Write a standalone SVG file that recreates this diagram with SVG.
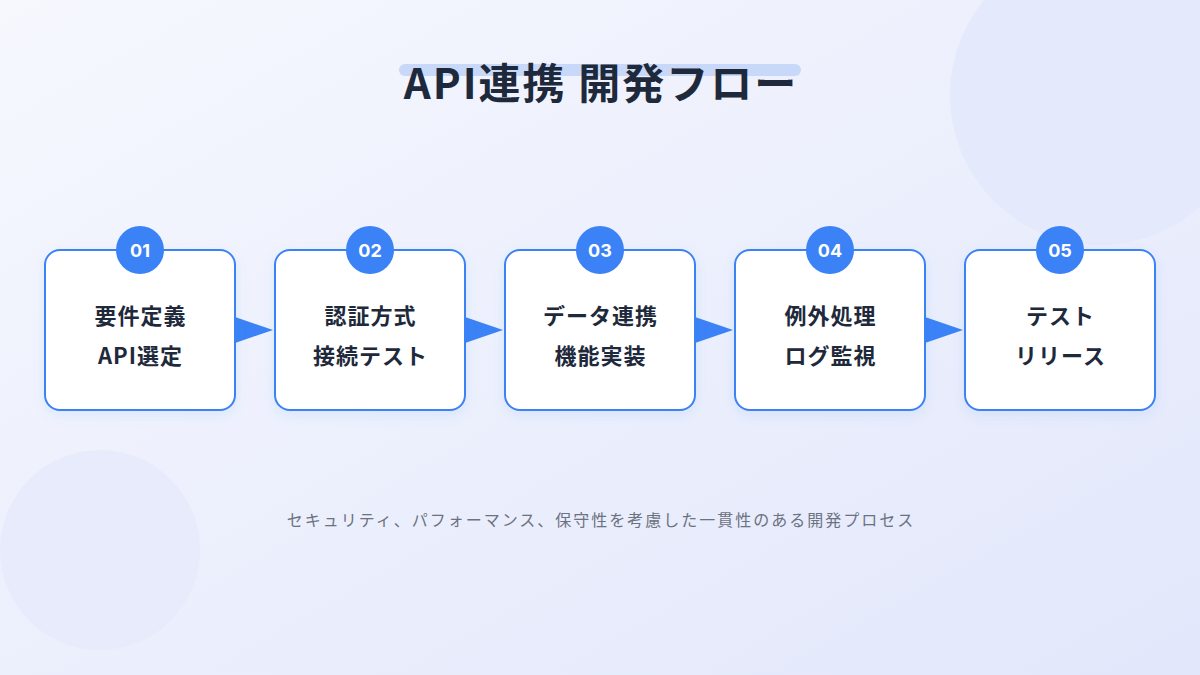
<svg xmlns="http://www.w3.org/2000/svg" width="1200" height="675" viewBox="0 0 1200 675">
<defs>
<linearGradient id="bg" x1="0" y1="0" x2="1" y2="1">
<stop offset="0" stop-color="#f6f8fe"/>
<stop offset="1" stop-color="#e2e7fb"/>
</linearGradient>
<filter id="sh" x="-20%" y="-20%" width="140%" height="140%">
<feDropShadow dx="0" dy="4" stdDeviation="6" flood-color="#3b82f6" flood-opacity="0.10"/>
</filter>
<style>
.box{fill:#ffffff;stroke:#3b82f6;stroke-width:2;}
.badge{fill:#3b82f6;}
.num{font-family:Inter,"Noto Sans",sans-serif;font-weight:700;font-size:18px;fill:#ffffff;text-anchor:middle;}
.lbl{font-family:"Noto Sans CJK JP","Noto Sans",sans-serif;font-weight:700;font-size:22px;letter-spacing:1px;fill:#1e293b;text-anchor:middle;}
.arr{fill:#3b82f6;}
.title{font-family:"Noto Sans CJK JP","Noto Sans",sans-serif;font-weight:700;font-size:42px;letter-spacing:2px;fill:#1e293b;text-anchor:middle;}
.cap{font-family:"Noto Sans CJK JP","Noto Sans",sans-serif;font-size:16px;letter-spacing:2px;fill:#6b7280;text-anchor:middle;}
</style>
</defs>
<rect width="1200" height="675" fill="url(#bg)"/>
<circle cx="1100" cy="95" r="150" fill="#e3e8fc" opacity="0.85"/>
<circle cx="100" cy="550" r="100" fill="#e6eafb" opacity="0.85"/>
<g id="title">
<rect x="399" y="64" width="402" height="12" rx="6" fill="#c8d8f8"/>
<text class="title" x="601" y="99">API連携 開発フロー</text>
</g>
<g id="connectors">
<polygon class="arr" points="235,317 273,330 235,343"/>
<polygon class="arr" points="465,317 503,330 465,343"/>
<polygon class="arr" points="695,317 733,330 695,343"/>
<polygon class="arr" points="925,317 963,330 925,343"/>
</g>
<g id="step1">
<rect class="box" x="45" y="250" width="190" height="160" rx="15" filter="url(#sh)"/>
<circle class="badge" cx="140" cy="250" r="24"/>
<text class="num" x="140" y="257">01</text>
<text class="lbl" x="140.5" y="324">要件定義</text>
<text class="lbl" x="140.5" y="364">API選定</text>
</g>
<g id="step2">
<rect class="box" x="275" y="250" width="190" height="160" rx="15" filter="url(#sh)"/>
<circle class="badge" cx="370" cy="250" r="24"/>
<text class="num" x="370" y="257">02</text>
<text class="lbl" x="370.5" y="324">認証方式</text>
<text class="lbl" x="370.5" y="364">接続テスト</text>
</g>
<g id="step3">
<rect class="box" x="505" y="250" width="190" height="160" rx="15" filter="url(#sh)"/>
<circle class="badge" cx="600" cy="250" r="24"/>
<text class="num" x="600" y="257">03</text>
<text class="lbl" x="600.5" y="324">データ連携</text>
<text class="lbl" x="600.5" y="364">機能実装</text>
</g>
<g id="step4">
<rect class="box" x="735" y="250" width="190" height="160" rx="15" filter="url(#sh)"/>
<circle class="badge" cx="830" cy="250" r="24"/>
<text class="num" x="830" y="257">04</text>
<text class="lbl" x="830.5" y="324">例外処理</text>
<text class="lbl" x="830.5" y="364">ログ監視</text>
</g>
<g id="step5">
<rect class="box" x="965" y="250" width="190" height="160" rx="15" filter="url(#sh)"/>
<circle class="badge" cx="1060" cy="250" r="24"/>
<text class="num" x="1060" y="257">05</text>
<text class="lbl" x="1060.5" y="324">テスト</text>
<text class="lbl" x="1060.5" y="364">リリース</text>
</g>
<text class="cap" x="601" y="526">セキュリティ、パフォーマンス、保守性を考慮した一貫性のある開発プロセス</text>
</svg>
